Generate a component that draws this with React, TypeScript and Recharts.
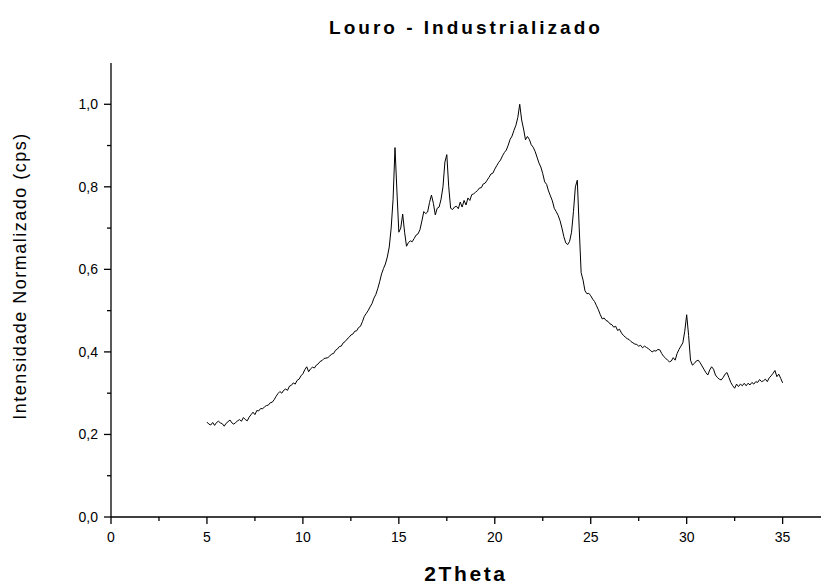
import { Label, Line, LineChart, XAxis, YAxis } from "recharts";

// XRD pattern (0.1 degree steps starting at 5.0)
const startAngle = 5;
const stepAngle = 0.1;

const intensity = [
	// 5.0 - 5.9
	0.230, 0.225, 0.223, 0.229, 0.222, 0.229, 0.232, 0.228, 0.226, 0.220,
	// 6
	0.227, 0.231, 0.235, 0.228, 0.225, 0.229, 0.233, 0.236, 0.232, 0.241,
	// 7
	0.236, 0.233, 0.242, 0.248, 0.254, 0.248, 0.258, 0.257, 0.263, 0.262,
	// 8
	0.267, 0.270, 0.271, 0.277, 0.278, 0.284, 0.292, 0.299, 0.304, 0.300,
	// 9
	0.307, 0.310, 0.307, 0.317, 0.319, 0.325, 0.322, 0.331, 0.334, 0.342,
	// 10
	0.347, 0.357, 0.364, 0.352, 0.359, 0.363, 0.361, 0.368, 0.371, 0.377,
	// 11
	0.379, 0.384, 0.385, 0.386, 0.390, 0.395, 0.396, 0.404, 0.407, 0.413,
	// 12
	0.414, 0.422, 0.425, 0.431, 0.435, 0.441, 0.443, 0.450, 0.451, 0.459,
	// 13
	0.462, 0.473, 0.486, 0.493, 0.500, 0.509, 0.517, 0.530, 0.539, 0.553,
	// 14
	0.570, 0.589, 0.602, 0.613, 0.630, 0.654, 0.700, 0.770, 0.895, 0.790,
	// 15
	0.690, 0.700, 0.734, 0.690, 0.656, 0.665, 0.669, 0.667, 0.675, 0.683,
	// 16
	0.686, 0.696, 0.717, 0.740, 0.735, 0.739, 0.762, 0.780, 0.760, 0.732,
	// 17
	0.748, 0.751, 0.770, 0.800, 0.860, 0.878, 0.800, 0.748, 0.745, 0.751,
	// 18
	0.753, 0.747, 0.763, 0.751, 0.767, 0.756, 0.773, 0.767, 0.781, 0.783,
	// 19
	0.787, 0.791, 0.797, 0.798, 0.807, 0.809, 0.816, 0.823, 0.831, 0.833,
	// 20
	0.843, 0.851, 0.859, 0.865, 0.875, 0.883, 0.889, 0.901, 0.915, 0.923,
	// 21
	0.937, 0.949, 0.968, 1.000, 0.962, 0.940, 0.914, 0.922, 0.915, 0.902,
	// 22
	0.896, 0.886, 0.872, 0.858, 0.848, 0.832, 0.812, 0.806, 0.790, 0.778,
	// 23
	0.766, 0.748, 0.740, 0.731, 0.718, 0.700, 0.679, 0.664, 0.660, 0.668,
	// 24
	0.690, 0.740, 0.800, 0.816, 0.700, 0.592, 0.574, 0.548, 0.541, 0.542,
	// 25
	0.536, 0.528, 0.522, 0.512, 0.502, 0.490, 0.480, 0.482, 0.476, 0.474,
	// 26
	0.468, 0.466, 0.460, 0.462, 0.452, 0.455, 0.446, 0.440, 0.436, 0.432,
	// 27
	0.430, 0.425, 0.422, 0.419, 0.418, 0.414, 0.416, 0.410, 0.414, 0.411,
	// 28
	0.408, 0.404, 0.400, 0.403, 0.402, 0.406, 0.405, 0.396, 0.389, 0.385,
	// 29
	0.380, 0.376, 0.378, 0.386, 0.380, 0.396, 0.406, 0.414, 0.422, 0.450,
	// 30
	0.490, 0.440, 0.380, 0.368, 0.372, 0.378, 0.380, 0.374, 0.366, 0.358,
	// 31
	0.350, 0.344, 0.356, 0.364, 0.358, 0.344, 0.338, 0.334, 0.332, 0.338,
	// 32
	0.346, 0.350, 0.338, 0.326, 0.318, 0.312, 0.322, 0.316, 0.322, 0.318,
	// 33
	0.324, 0.318, 0.324, 0.320, 0.326, 0.322, 0.328, 0.326, 0.333, 0.328,
	// 34
	0.330, 0.334, 0.328, 0.337, 0.342, 0.348, 0.355, 0.340, 0.346, 0.336,
	// 35
	0.325,
];

const xTicks = [0, 2.5, 5, 7.5, 10, 12.5, 15, 17.5, 20, 22.5, 25, 27.5, 30, 32.5, 35];
const yTicks = [0, 0.1, 0.2, 0.3, 0.4, 0.5, 0.6, 0.7, 0.8, 0.9, 1.0];

const data = intensity.map((v, i) => ({
	x: Math.round((startAngle + i * stepAngle) * 10) / 10,
	y: v,
}));

const FONT = "'Liberation Sans', Arial, sans-serif";

const XTick = (props: any) => {
	const { x, y, payload } = props;
	const major = payload.value % 5 === 0;
	return (
		<g>
			<line x1={x} y1={y} x2={x} y2={y + (major ? 7 : 4)} stroke="#000" strokeWidth={1.3} />
			{major && (
				<text x={x} y={y + 25} textAnchor="middle" fontSize={14} fontFamily={FONT} fill="#000">
					{payload.value}
				</text>
			)}
		</g>
	);
};

const YTick = (props: any) => {
	const { x, y, payload } = props;
	const major = Math.round(payload.value * 10) % 2 === 0;
	return (
		<g>
			<line x1={x} y1={y} x2={x - (major ? 7 : 4)} y2={y} stroke="#000" strokeWidth={1.3} />
			{major && (
				<text x={x - 13} y={y + 5} textAnchor="end" fontSize={14} fontFamily={FONT} fill="#000">
					{payload.value.toFixed(1).replace(".", ",")}
				</text>
			)}
		</g>
	);
};

export default function App() {
	return (
		<div style={{ position: "absolute", left: 0, top: 0, width: 822, height: 585, background: "#fff" }}>
			<div
				style={{
					position: "absolute",
					left: 111,
					width: 710,
					top: 17,
					textAlign: "center",
					fontFamily: FONT,
					fontWeight: "bold",
					fontSize: 19,
					letterSpacing: 3,
				}}
			>
				Louro - Industrializado
			</div>
			<LineChart width={822} height={585} data={data} margin={{ top: 63, right: 1, left: 0, bottom: 0 }}>
				<XAxis
					dataKey="x"
					type="number"
					domain={[0, 37]}
					ticks={xTicks}
					allowDataOverflow
					height={68}
					tickSize={0}
					tickMargin={0}
					tick={<XTick />}
					tickLine={false}
					axisLine={{ stroke: "#000", strokeWidth: 1.3 }}
					interval={0}
				>
					<Label
						content={({ viewBox }: any) => (
							<text
								x={viewBox.x + viewBox.width / 2}
								y={viewBox.y + 64}
								textAnchor="middle"
								fontFamily={FONT}
								fontWeight="bold"
								fontSize={21}
								letterSpacing={2.6}
								fill="#000"
							>
								2Theta
							</text>
						)}
					/>
				</XAxis>
				<YAxis
					type="number"
					domain={[0, 1.1]}
					ticks={yTicks}
					width={111}
					tickSize={0}
					tickMargin={0}
					tick={<YTick />}
					tickLine={false}
					axisLine={{ stroke: "#000", strokeWidth: 1.3 }}
					interval={0}
				>
					<Label
						content={({ viewBox }: any) => {
							const cx = viewBox.x + 26;
							const cy = viewBox.y + viewBox.height / 2 - 14;
							return (
								<text
									x={cx}
									y={cy}
									transform={`rotate(-90 ${cx} ${cy})`}
									textAnchor="middle"
									fontFamily={FONT}
									fontSize={18}
									letterSpacing={1.5}
									fill="#000"
								>
									Intensidade Normalizado (cps)
								</text>
							);
						}}
					/>
				</YAxis>
				<Line
					type="linear"
					dataKey="y"
					stroke="#000"
					strokeWidth={1}
					dot={false}
					activeDot={false}
					isAnimationActive={false}
				/>
			</LineChart>
		</div>
	);
}
